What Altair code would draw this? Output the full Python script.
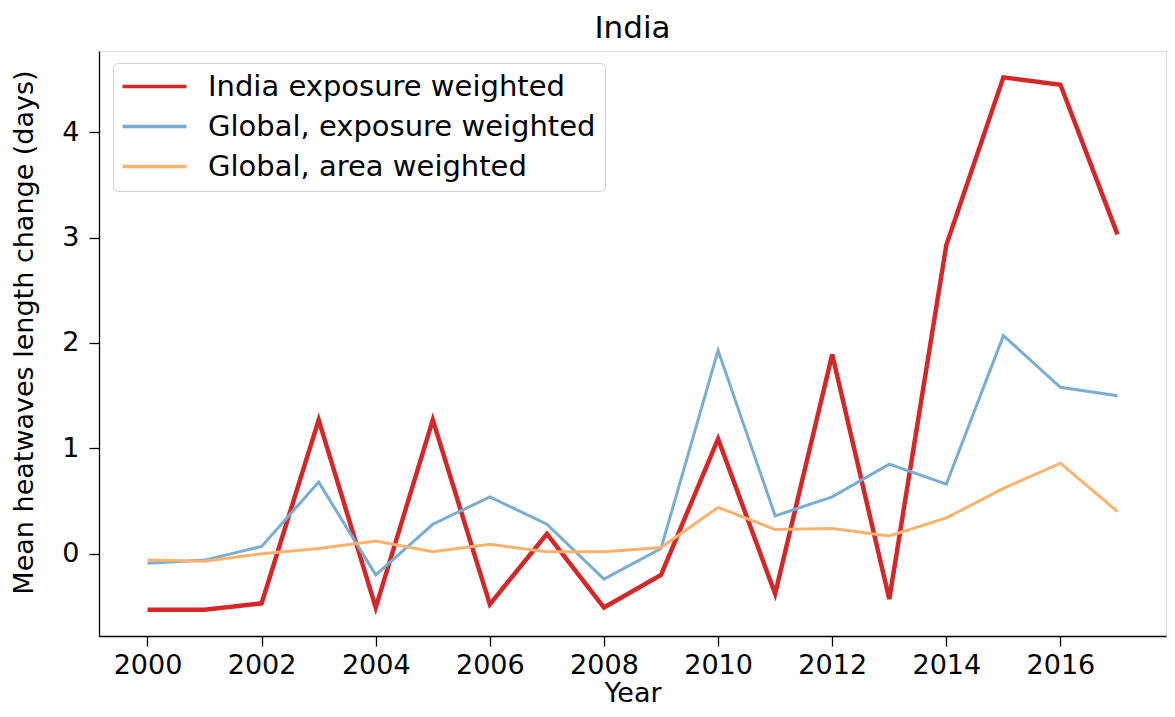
import altair as alt
import pandas as pd

years = list(range(2000, 2018))
india_exposure = [-0.53, -0.53, -0.47, 1.27, -0.51, 1.27, -0.48, 0.19, -0.51, -0.20,
                  1.09, -0.38, 1.89, -0.43, 2.93, 4.52, 4.45, 3.03]
global_exposure = [-0.09, -0.06, 0.07, 0.68, -0.20, 0.28, 0.54, 0.28, -0.24, 0.05,
                   1.93, 0.36, 0.54, 0.85, 0.66, 2.07, 1.58, 1.50]
global_area = [-0.06, -0.07, 0.00, 0.05, 0.12, 0.02, 0.09, 0.02, 0.02, 0.06,
               0.44, 0.23, 0.24, 0.17, 0.34, 0.62, 0.86, 0.40]

series_names = ["India exposure weighted", "Global, exposure weighted", "Global, area weighted"]
series_colors = ["#d62728", "#79add2", "#ffb26e"]
x_ticks = list(range(2000, 2017, 2))
y_ticks = [0, 1, 2, 3, 4]

rows = []
for name, vals in zip(series_names, [india_exposure, global_exposure, global_area]):
    for y, v in zip(years, vals):
        rows.append({"Year": y, "value": v, "series": name})
df = pd.DataFrame(rows)

FONT = "DejaVu Sans"

x_enc = alt.X("Year:Q",
              scale=alt.Scale(domain=[1999.15, 2017.85], nice=False, zero=False),
              axis=alt.Axis(values=x_ticks, format="d", title="Year", grid=False,
                            tickSize=10, labelPadding=6, labelFontSize=27,
                            titleFontSize=27, titleFontWeight="normal", titlePadding=2,
                            domainColor="black", tickColor="black", domainWidth=1.3,
                            tickWidth=1.3, labelColor="black", titleColor="black",
                            labelFont=FONT, titleFont=FONT))
y_enc = alt.Y("value:Q",
              scale=alt.Scale(domain=[-0.78, 4.77], nice=False, zero=False),
              axis=alt.Axis(values=y_ticks, title="Mean heatwaves length change (days)",
                            grid=False, tickSize=10, labelPadding=10, labelFontSize=27,
                            titleFontSize=27, titleFontWeight="normal", titlePadding=23,
                            titleY=281,
                            domainColor="black", tickColor="black", domainWidth=1.3,
                            tickWidth=1.3, labelColor="black", titleColor="black",
                            labelFont=FONT, titleFont=FONT))

legend = alt.Legend(
    title=None, orient="none", legendX=14, legendY=12,
    symbolType="M-2.667,0H2.667", symbolSize=576, symbolOffset=18, labelOffset=39,
    symbolStrokeWidth=3.5, labelFontSize=29, labelFont=FONT, labelColor="black",
    rowPadding=10, padding=9, fillColor="white", strokeColor="#d0d0d0",
    cornerRadius=5, labelLimit=600,
)

color_enc = alt.Color("series:N",
                      scale=alt.Scale(domain=series_names, range=series_colors),
                      legend=legend)

red = alt.Chart(df).transform_filter(
    alt.datum.series == series_names[0]
).mark_line(strokeWidth=4.5).encode(x=x_enc, y=y_enc, color=color_enc)

others = alt.Chart(df).transform_filter(
    alt.datum.series != series_names[0]
).mark_line(strokeWidth=3).encode(
    x=x_enc, y=y_enc, color=color_enc, detail="series:N")

chart = alt.layer(red, others).properties(
    width=1067, height=585,
    title=alt.TitleParams("India", fontSize=31, font=FONT, fontWeight="normal",
                          color="black", offset=6, anchor="middle"),
    autosize=alt.AutoSizeParams(type="none"),
    padding={"left": 91, "top": 43, "right": 1, "bottom": 72},
).configure_view(stroke="black", strokeWidth=1.3).configure(background="white")

chart.save("out.html", embed_options={"renderer": "svg", "actions": False})
